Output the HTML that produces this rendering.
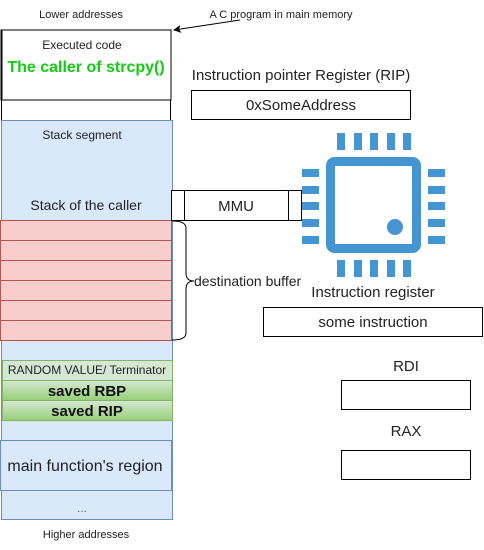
<!DOCTYPE html>
<html><head><meta charset="utf-8">
<style>html,body{margin:0;padding:0;background:#fff;}svg{display:block;}</style>
</head><body>
<svg width="484" height="550" viewBox="0 0 484 550" xmlns="http://www.w3.org/2000/svg" font-family="Liberation Sans, Arial, sans-serif">
<defs>
<linearGradient id="g" x1="0" y1="0" x2="0" y2="1"><stop offset="0" stop-color="#d5e8d4"/><stop offset="1" stop-color="#97d077"/></linearGradient>
<marker id="ah" markerWidth="8" markerHeight="8" refX="7" refY="4" orient="auto" markerUnits="userSpaceOnUse"><path d="M0,0 L8,4 L0,8 L2,4 z" fill="#000"/></marker>
</defs>
<text x="81" y="18" font-size="11" text-anchor="middle" fill="#222">Lower addresses</text>
<text x="281" y="18" font-size="11" text-anchor="middle" fill="#222">A C program in main memory</text>
<line x1="240" y1="20" x2="174" y2="30" stroke="#000" stroke-width="1" marker-end="url(#ah)"/>
<rect x="1" y="30" width="170" height="70" fill="#fff" stroke="#000"/>
<line x1="1.5" y1="30" x2="1.5" y2="100" stroke="#000" stroke-width="2"/>
<text x="82" y="49" font-size="12" text-anchor="middle" fill="#222">Executed code</text>
<text x="86" y="72" font-size="16" font-weight="bold" text-anchor="middle" fill="#11cc11">The caller of strcpy()</text>
<line x1="1.5" y1="100" x2="1.5" y2="520" stroke="#000"/>
<line x1="170.5" y1="100" x2="170.5" y2="120" stroke="#000"/>
<rect x="1.5" y="120.5" width="171" height="399" fill="#dae8fc" stroke="#6c8ebf"/>
<text x="82" y="139" font-size="12" text-anchor="middle" fill="#222">Stack segment</text>
<text x="86" y="210" font-size="14" text-anchor="middle" fill="#222">Stack of the caller</text>
<g fill="#f8cecc" stroke="#b85450">
<rect x="0.5" y="220.5" width="171" height="20"/>
<rect x="0.5" y="240.5" width="171" height="20"/>
<rect x="0.5" y="260.5" width="171" height="20"/>
<rect x="0.5" y="280.5" width="171" height="20"/>
<rect x="0.5" y="300.5" width="171" height="20"/>
<rect x="0.5" y="320.5" width="171" height="20"/>
</g>
<rect x="2.5" y="360.5" width="170" height="20" fill="#d5e8d4" stroke="#82b366"/>
<text x="87" y="374" font-size="12" text-anchor="middle" fill="#222">RANDOM VALUE/ Terminator</text>
<rect x="2.5" y="380.5" width="170" height="20" fill="url(#g)" stroke="#82b366"/>
<text x="87" y="396" font-size="15" font-weight="bold" text-anchor="middle" fill="#111">saved RBP</text>
<rect x="2.5" y="400.5" width="170" height="20" fill="url(#g)" stroke="#82b366"/>
<text x="87" y="416" font-size="15" font-weight="bold" text-anchor="middle" fill="#111">saved RIP</text>
<rect x="0.5" y="440.5" width="171" height="50" fill="#dae8fc" stroke="#6c8ebf"/>
<text x="85" y="471" font-size="16" text-anchor="middle" fill="#222">main function's region</text>
<text x="82" y="512" font-size="12" text-anchor="middle" fill="#666">...</text>
<text x="86" y="538" font-size="11" text-anchor="middle" fill="#222">Higher addresses</text>
<rect x="171.5" y="190.5" width="130" height="30" fill="#fff" stroke="#000"/>
<line x1="184.5" y1="190" x2="184.5" y2="220" stroke="#000"/>
<line x1="288.5" y1="190" x2="288.5" y2="220" stroke="#000"/>
<text x="236" y="211" font-size="15" text-anchor="middle" fill="#222">MMU</text>
<path d="M172,221 Q186,221 186,228 L186,273 Q186,281 194,281 Q186,281 186,289 L186,333 Q186,340 172,340" fill="none" stroke="#000"/>
<text x="194" y="286" font-size="14" fill="#222">destination buffer</text>
<text x="301" y="80" font-size="15" text-anchor="middle" fill="#222">Instruction pointer Register (RIP)</text>
<rect x="191.5" y="90.5" width="219" height="29" fill="#fff" stroke="#000"/>
<text x="301" y="110" font-size="15" text-anchor="middle" fill="#222">0xSomeAddress</text>
<text x="373" y="297" font-size="15" text-anchor="middle" fill="#222">Instruction register</text>
<rect x="263.5" y="307.5" width="219" height="29" fill="#fff" stroke="#000"/>
<text x="373" y="327" font-size="15" text-anchor="middle" fill="#222">some instruction</text>
<text x="406" y="371" font-size="15" text-anchor="middle" fill="#222">RDI</text>
<rect x="341.5" y="380.5" width="129" height="29" fill="#fff" stroke="#000"/>
<text x="406" y="436" font-size="15" text-anchor="middle" fill="#222">RAX</text>
<rect x="341.5" y="450.5" width="129" height="29" fill="#fff" stroke="#000"/>
<g fill="#4495d1">
<rect x="330.5" y="161.5" width="86" height="87" rx="4" fill="none" stroke="#4495d1" stroke-width="9"/>
<circle cx="395" cy="227" r="8"/>
<rect x="337" y="133" width="8" height="17"/><rect x="354" y="133" width="8" height="17"/><rect x="370" y="133" width="8" height="17"/><rect x="387" y="133" width="8" height="17"/><rect x="403" y="133" width="8" height="17"/>
<rect x="337" y="260" width="8" height="17"/><rect x="354" y="260" width="8" height="17"/><rect x="370" y="260" width="8" height="17"/><rect x="387" y="260" width="8" height="17"/><rect x="403" y="260" width="8" height="17"/>
<rect x="302" y="169" width="17" height="8"/><rect x="302" y="186" width="17" height="8"/><rect x="302" y="202" width="17" height="8"/><rect x="302" y="219" width="17" height="8"/><rect x="302" y="236" width="17" height="8"/>
<rect x="428" y="169" width="17" height="8"/><rect x="428" y="186" width="17" height="8"/><rect x="428" y="202" width="17" height="8"/><rect x="428" y="219" width="17" height="8"/><rect x="428" y="236" width="17" height="8"/>
</g>
</svg>
</body></html>
